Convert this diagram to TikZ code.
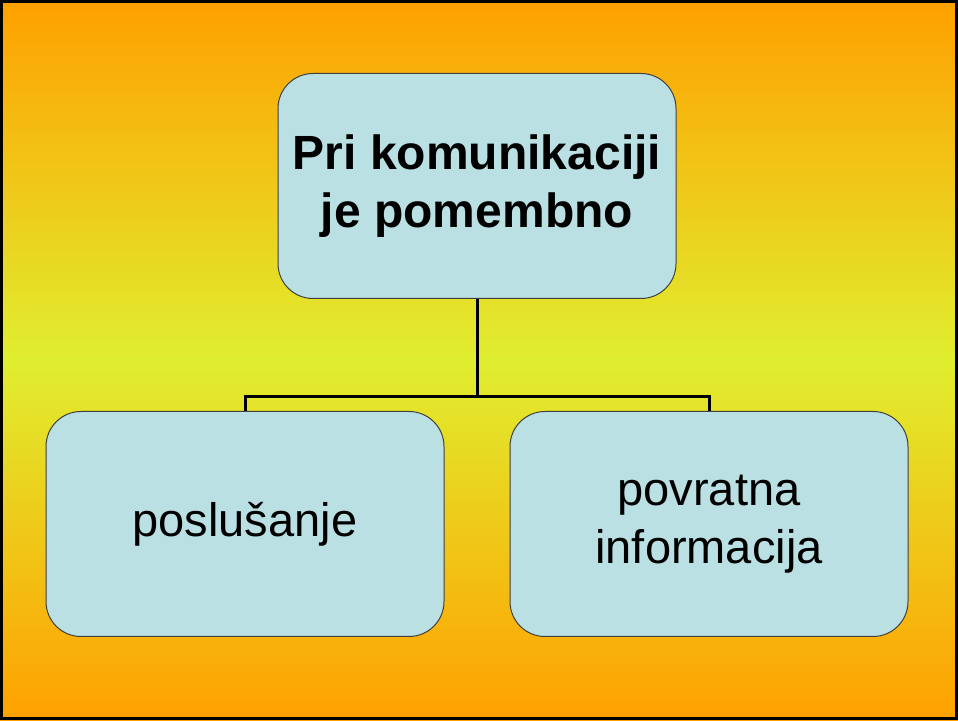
\documentclass[tikz,border=0pt]{standalone}
\usepackage{fontspec}
\setmainfont{Liberation Sans}
\definecolor{bg_orange}{HTML}{FFA000}
\definecolor{bg_yellow}{HTML}{E0EE30}
\definecolor{box_blue}{HTML}{BAE0E3}
\tikzset{
  box/.style = {rectangle, rounded corners=35pt, draw=black!75, fill=box_blue,
    minimum width=398pt, minimum height=225pt, align=center, inner sep=0pt,
    line width=1pt},% okvir
  box_top/.style = {box, font=\fontsize{48}{58}\selectfont\bfseries},% glavni okvir
  box_bot/.style = {box, font=\fontsize{47}{58}\selectfont},% spodnji okvir
  link/.style = {line width=3pt, black}% povezava
}

\begin{document}
\begin{tikzpicture}[x=1pt,y=1pt]
  \useasboundingbox (0,0) rectangle (958,720);
  \shade[top color=bg_orange, bottom color=bg_orange, middle color=bg_yellow]
    (0,0) rectangle (958,720);
  \draw[line width=3pt] (1.5,1.5) rectangle (956.5,718.5);
  \node [box_top] (komun) at (477,534) {Pri komunikaciji\\je pomembno};
  \node [box_bot] (poslus) at (245,196) {poslušanje};
  \node [box_bot] (povrat) at (709,196) {povratna\\informacija};
  \coordinate (fork) at (477,323);
  \draw [link] (komun.south) -- (fork);
  \draw [link] (fork) -| (poslus.north);
  \draw [link] (fork) -| (povrat.north);
\end{tikzpicture}
\end{document}
